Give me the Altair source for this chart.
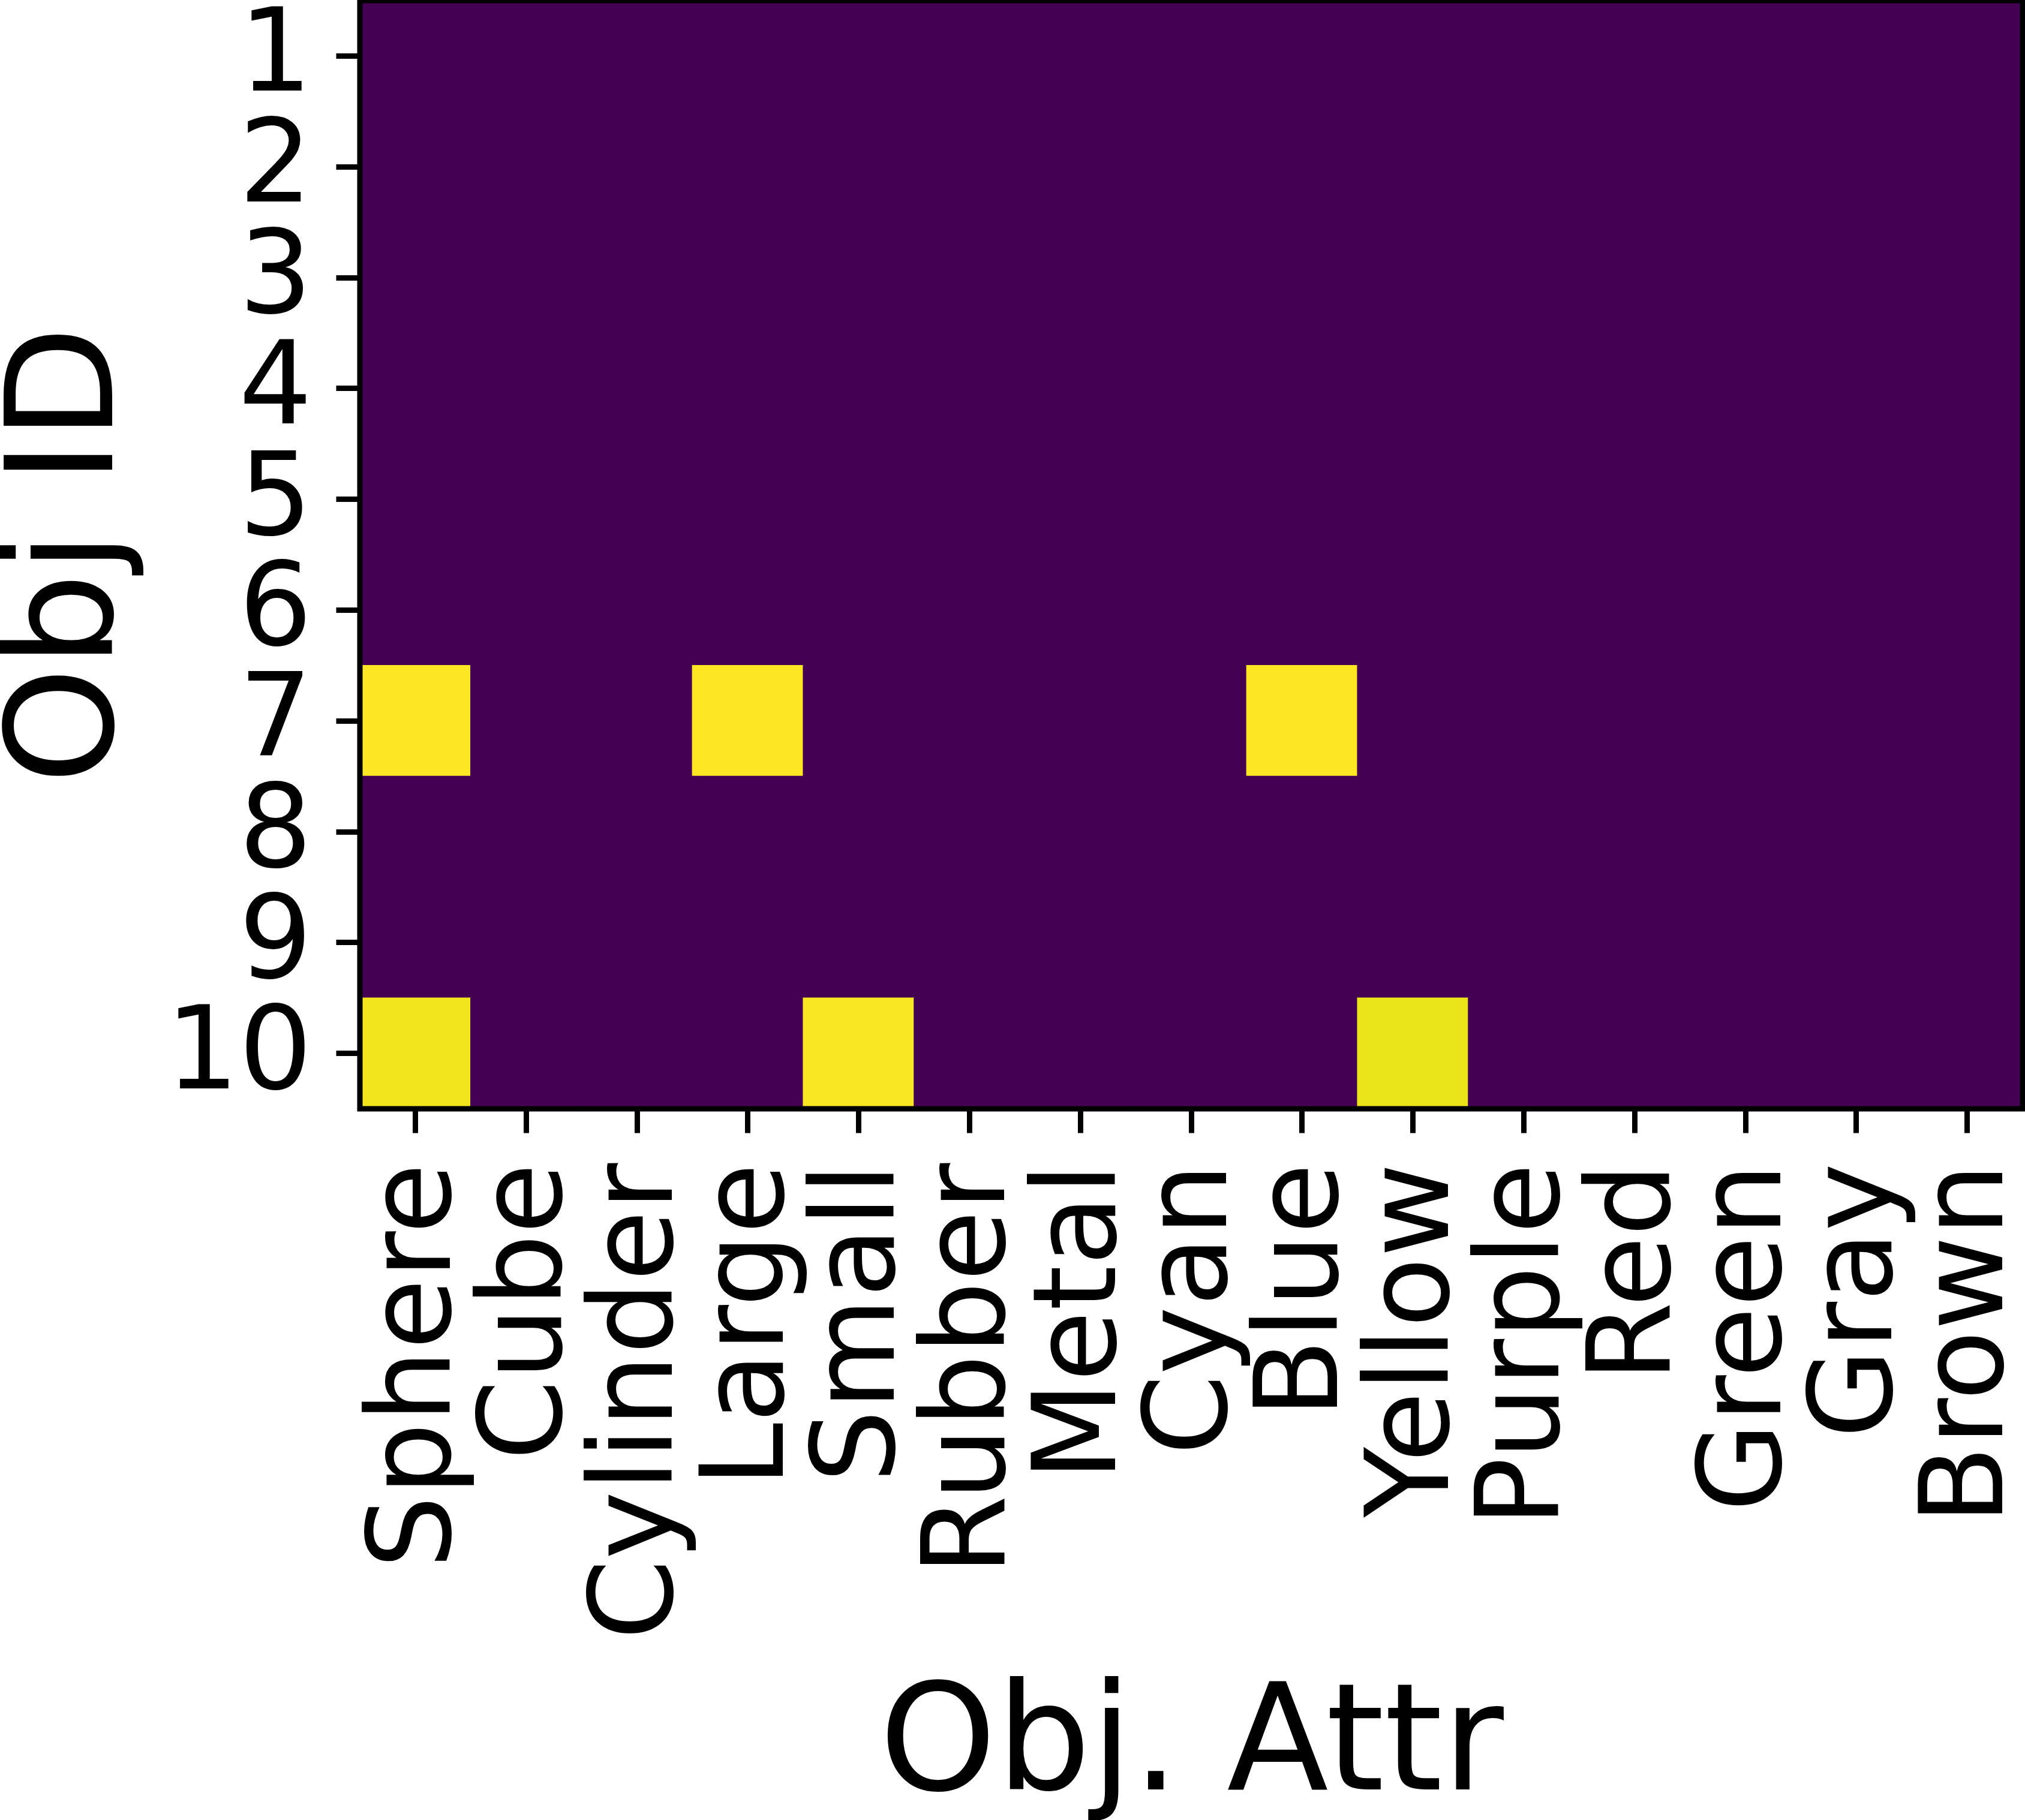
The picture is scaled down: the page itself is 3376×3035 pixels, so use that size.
import altair as alt
import pandas as pd

attrs = ["Sphere", "Cube", "Cylinder", "Large", "Small", "Rubber", "Metal",
         "Cyan", "Blue", "Yellow", "Purple", "Red", "Green", "Gray", "Brown"]
obj_ids = [1, 2, 3, 4, 5, 6, 7, 8, 9, 10]

# one row per object, one value per attribute (0 = absent, ~1 = present)
row_1 = [0] * 15
row_2 = [0] * 15
row_3 = [0] * 15
row_4 = [0] * 15
row_5 = [0] * 15
row_6 = [0] * 15
row_7 = [1, 0, 0, 1, 0, 0, 0, 0, 1, 0, 0, 0, 0, 0, 0]
row_8 = [0] * 15
row_9 = [0] * 15
row_10 = [0.98, 0, 0, 0, 0.995, 0, 0, 0, 0, 0.968, 0, 0, 0, 0, 0]
rows = [row_1, row_2, row_3, row_4, row_5, row_6, row_7, row_8, row_9, row_10]

records = []
for oid, row in zip(obj_ids, rows):
    for a, v in zip(attrs, row):
        records.append({"attr": a, "obj": oid, "value": v})
df = pd.DataFrame(records)

FONT = "DejaVu Sans"
W, H = 2772, 1848

cscale = alt.Scale(scheme="viridis", domain=[0, 1])

heat = alt.Chart(df).mark_rect(strokeWidth=1.5).encode(
    x=alt.X("attr:N", sort=attrs,
            scale=alt.Scale(paddingInner=0, paddingOuter=0),
            axis=alt.Axis(title="Obj. Attr", labelAngle=270, labelFont=FONT,
                          labelFontSize=192, labelColor="black",
                          labelPadding=50, labelLimit=3000, labelOverlap=False,
                          labelBound=False, tickSize=40, tickWidth=9,
                          tickColor="black", domain=False, grid=False,
                          titleFont=FONT, titleFontSize=248,
                          titleFontWeight="normal", titleColor="black",
                          titleBaseline="alphabetic", titleAlign="center",
                          titleX=W / 2, titleY=1134, zindex=1)),
    y=alt.Y("obj:O", sort=obj_ids,
            scale=alt.Scale(paddingInner=0, paddingOuter=0),
            axis=alt.Axis(title="Obj ID", labelFont=FONT, labelFontSize=192,
                          labelColor="black", labelPadding=40,
                          labelLimit=3000,
                          labelOverlap=False, labelBound=False,
                          tickSize=40, tickWidth=9, tickColor="black",
                          domain=False, grid=False,
                          titleFont=FONT, titleFontSize=248,
                          titleFontWeight="normal", titleColor="black",
                          titleAngle=270, titleBaseline="alphabetic",
                          titleAlign="center", titleX=-414, titleY=H / 2,
                          zindex=1)),
    color=alt.Color("value:Q", scale=cscale, legend=None),
    stroke=alt.Stroke("value:Q", scale=cscale, legend=None),
)

frame = alt.Chart(alt.Data(values=[{}])).mark_rect(
    fill="transparent", stroke="black", strokeWidth=9
).encode(
    x=alt.value(0), x2=alt.value("width"),
    y=alt.value(0), y2=alt.value("height"),
)

chart = alt.layer(heat, frame).properties(
    width=W, height=H,
    autosize=alt.AutoSizeParams(type="none"),
    padding={"left": 600, "top": 1, "right": 4, "bottom": 1186},
    background="white",
).configure_view(stroke=None)

chart.save("out.html", embed_options={"renderer": "svg", "actions": False})
